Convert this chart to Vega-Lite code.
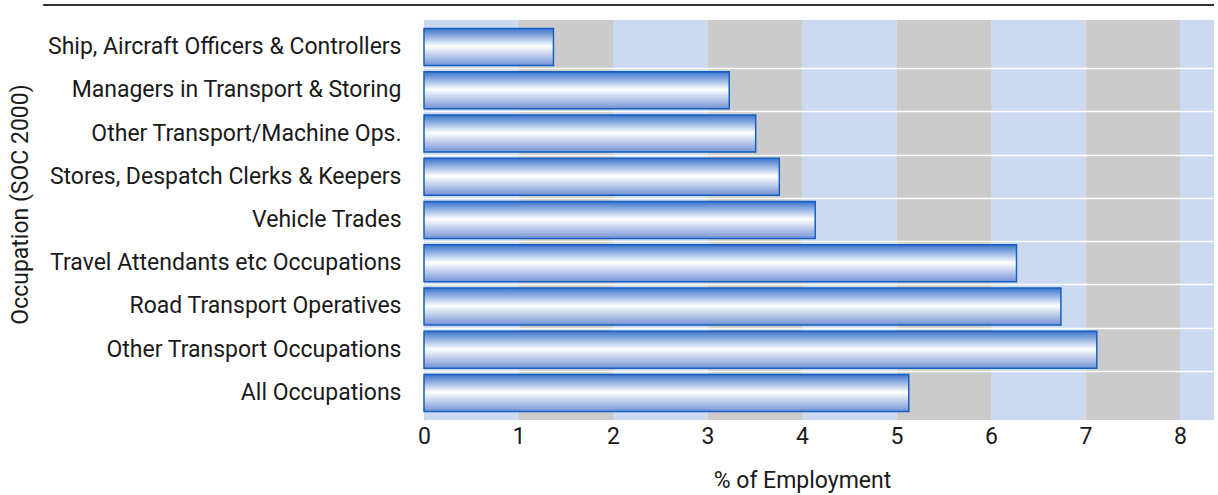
{
  "$schema": "https://vega.github.io/schema/vega-lite/v6.json",
  "autosize": {"type": "none"},
  "padding": {"left": 424, "top": 20, "right": 4, "bottom": 75},
  "width": 790,
  "height": 400,
  "background": "white",
  "config": {
    "font": "Roboto",
    "view": {"stroke": null},
    "axis": {"labelColor": "#1a1a1a", "titleColor": "#1a1a1a", "titleFontWeight": "normal"}
  },
  "datasets": {
    "occ": [
      {"occupation": "Ship, Aircraft Officers & Controllers", "value": 1.37},
      {"occupation": "Managers in Transport & Storing", "value": 3.23},
      {"occupation": "Other Transport/Machine Ops.", "value": 3.51},
      {"occupation": "Stores, Despatch Clerks & Keepers", "value": 3.76},
      {"occupation": "Vehicle Trades", "value": 4.14},
      {"occupation": "Travel Attendants etc Occupations", "value": 6.27},
      {"occupation": "Road Transport Operatives", "value": 6.74},
      {"occupation": "Other Transport Occupations", "value": 7.12},
      {"occupation": "All Occupations", "value": 5.13}
    ],
    "stripes": [
      {"start": 0, "end": 1, "shade": "b"},
      {"start": 1, "end": 2, "shade": "g"},
      {"start": 2, "end": 3, "shade": "b"},
      {"start": 3, "end": 4, "shade": "g"},
      {"start": 4, "end": 5, "shade": "b"},
      {"start": 5, "end": 6, "shade": "g"},
      {"start": 6, "end": 7, "shade": "b"},
      {"start": 7, "end": 8, "shade": "g"},
      {"start": 8, "end": 8.36, "shade": "b"}
    ],
    "topline": [{"from": -4.03, "to": 8.36}]
  },
  "layer": [
    {
      "data": {"name": "stripes"},
      "mark": {"type": "rect"},
      "encoding": {
        "x": {"field": "start", "type": "quantitative", "title": "% of Employment",
              "scale": {"domain": [0, 8.36], "nice": false, "zero": true},
              "axis": {"values": [0,1,2,3,4,5,6,7,8], "grid": false, "ticks": false, "domain": false, "labelFlush": false, "labelFontSize": 23, "labelPadding": 5, "titleFontSize": 23, "titlePadding": 21, "titleX": 378}},
        "x2": {"field": "end"},
        "color": {"field": "shade", "type": "nominal", "scale": {"domain": ["b", "g"], "range": ["#cbdaf0", "#cbcbcb"]}, "legend": null}
      }
    },
    {
      "data": {"name": "occ"},
      "mark": {"type": "bar", "opacity": 0},
      "encoding": {
        "y": {"field": "occupation", "type": "nominal", "sort": null,
              "scale": {"paddingInner": 0, "paddingOuter": 0.125},
              "axis": {"orient": "right", "labels": false, "ticks": false, "domain": false, "title": null, "grid": true, "gridColor": "#ffffff", "gridWidth": 1.5, "bandPosition": 0, "zindex": 1,
                       "gridOpacity": {"condition": {"test": "datum.value === 'Ship, Aircraft Officers & Controllers'", "value": 0}, "value": 1}}},
        "x": {"field": "value", "type": "quantitative", "title": "% of Employment",
              "axis": {"values": [0,1,2,3,4,5,6,7,8], "grid": false, "ticks": false, "domain": false, "labelFlush": false, "labelFontSize": 23, "labelPadding": 5, "titleFontSize": 23, "titlePadding": 21, "titleX": 378}}
      }
    },
    {
      "data": {"name": "occ"},
      "mark": {
        "type": "bar",
        "height": {"band": 0.856},
        "fill": {"gradient": "linear", "x1": 0, "y1": 0, "x2": 0, "y2": 1,
                 "stops": [{"offset": 0, "color": "#3a73ca"}, {"offset": 0.48, "color": "#ffffff"}, {"offset": 1, "color": "#7393d5"}]},
        "stroke": "#1560c0",
        "strokeWidth": 1.5
      },
      "encoding": {
        "y": {"field": "occupation", "type": "nominal", "sort": null,
              "scale": {"paddingInner": 0, "paddingOuter": 0.125},
              "axis": {"orient": "left", "title": "Occupation (SOC 2000)", "ticks": false, "grid": false, "domain": true, "domainColor": "#c4c4c4", "domainWidth": 1, "labelFontSize": 23, "labelPadding": 23, "labelLimit": 500, "titleFontSize": 23, "titleX": -392, "titleY": 184}},
        "x": {"field": "value", "type": "quantitative", "title": "% of Employment",
              "axis": {"values": [0,1,2,3,4,5,6,7,8], "grid": false, "ticks": false, "domain": false, "labelFlush": false, "labelFontSize": 23, "labelPadding": 5, "titleFontSize": 23, "titlePadding": 21, "titleX": 378}}
      }
    },
    {
      "data": {"name": "topline"},
      "mark": {"type": "rule", "color": "#333333", "strokeWidth": 2},
      "encoding": {
        "x": {"field": "from", "type": "quantitative", "title": "% of Employment",
              "axis": {"values": [0,1,2,3,4,5,6,7,8], "grid": false, "ticks": false, "domain": false, "labelFlush": false, "labelFontSize": 23, "labelPadding": 5, "titleFontSize": 23, "titlePadding": 21, "titleX": 378}},
        "x2": {"field": "to"},
        "y": {"value": -15}
      }
    }
  ],
  "resolve": {"axis": {"y": "independent"}}
}
